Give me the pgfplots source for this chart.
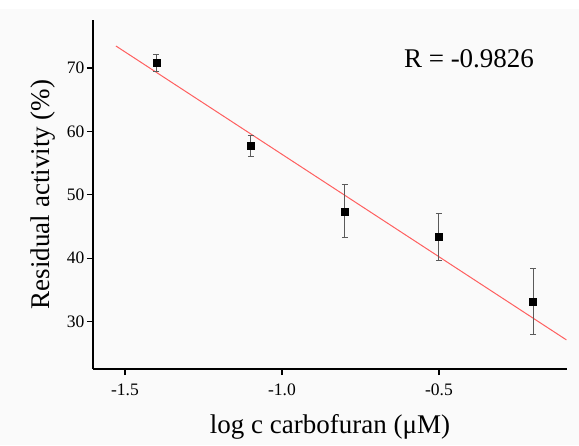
\documentclass[border=0pt]{standalone}
\usepackage{fontspec}
\setmainfont{Liberation Serif}
\usepackage{pgfplots}
\pgfplotsset{compat=1.18}
\definecolor{bg}{RGB}{250,250,250}
\definecolor{fitred}{RGB}{255,95,95}
\definecolor{errgray}{RGB}{90,90,90}
\begin{document}
\begin{tikzpicture}[x=1pt,y=1pt]
\fill[bg] (0,0) rectangle (579,436);
\path[use as bounding box] (0,0) rectangle (579,445);
\begin{axis}[at={(93pt,76pt)}, anchor=south west, scale only axis,
  width=474pt, height=349pt,
  xmin=-1.602, xmax=-0.092, ymin=22.5, ymax=77.6,
  axis x line*=bottom, axis y line*=left,
  axis line style={line width=1.6pt, black},
  tick align=outside, major tick length=6pt,
  tick style={line width=1.3pt, black},
  xtick={-1.5,-1,-0.5}, xticklabels={-1.5,-1.0,-0.5},
  ytick={30,40,50,60,70},
  /pgf/number format/assume math mode=true,
  tick label style={font=\fontsize{17.5}{19}\selectfont},
  xticklabel style={yshift=-5pt},
  yticklabel style={xshift=1pt},
  clip=false,
]
\addplot[fitred, line width=1pt] coordinates {(-1.529,73.5) (-0.094,27.1)};
\addplot[only marks, mark=square*, mark size=3.5pt, black,
  error bars/.cd, y dir=both, y explicit,
  error bar style={errgray, line width=0.9pt},
  error mark options={rotate=90, mark size=3pt, errgray, line width=0.9pt}]
  table[x=x, y=y, y error=e] {
  x y e
  -1.4 70.8 1.4
  -1.1 57.7 1.7
  -0.8 47.4 4.2
  -0.5 43.4 3.7
  -0.2 33.2 5.2
};
\end{axis}
\node[rotate=90, anchor=base, font=\fontsize{27}{30}\selectfont] at (50,250.5) {Residual activity (\%)};
\node[anchor=base, font=\fontsize{27}{30}\selectfont] at (330,12) {log c carbofuran (μM)};
\node[anchor=base, font=\fontsize{27}{30}\selectfont] at (469,377) {R = -0.9826};
\end{tikzpicture}
\end{document}
